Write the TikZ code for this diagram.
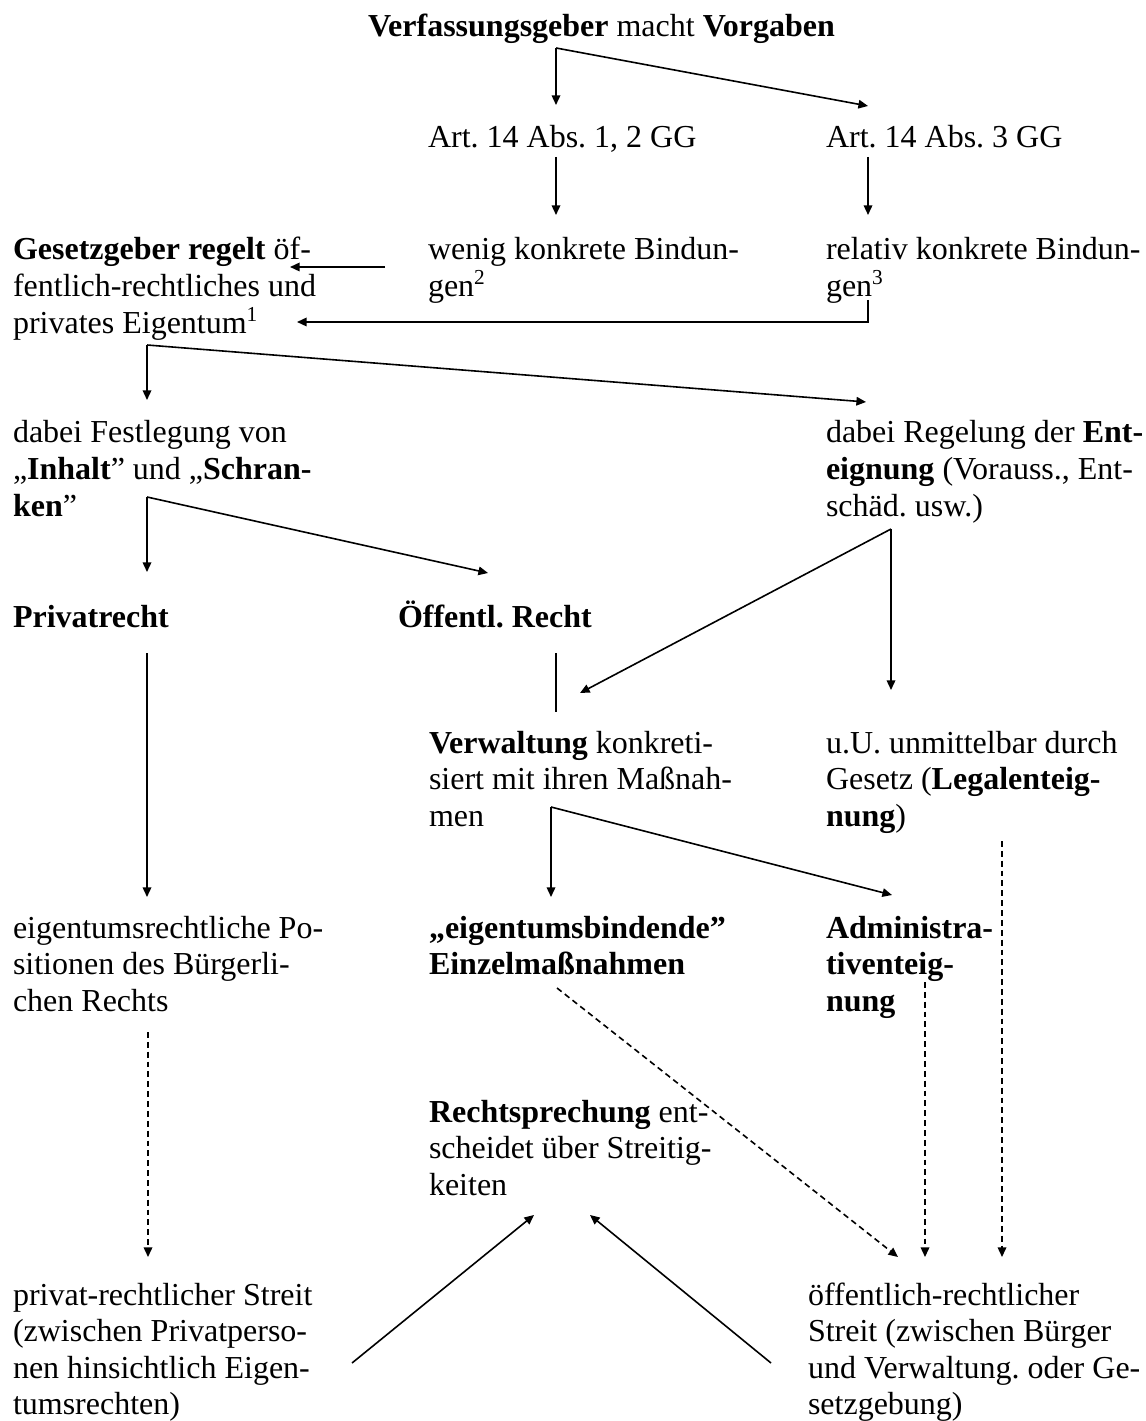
\documentclass[tikz,border=0pt]{standalone}
\usepackage{fontspec}
\setmainfont{Liberation Serif}
\usetikzlibrary{arrows.meta}
\frenchspacing
% a left-aligned block of lines whose baseline is that of its first line
\newcommand\textlines[1]{\vtop{\baselineskip=13.7pt\lineskiplimit=0pt\halign{##\hfil\cr#1\crcr}}}
\begin{document}
\begin{tikzpicture}[x=0.375pt, y=-0.375pt,
  txt/.style={inner sep=0pt, outer sep=0pt, anchor=base west, font=\fontsize{12pt}{13.7pt}\selectfont},
  link/.style={line width=0.6pt},
  arrowlink/.style={link, -{Triangle[length=3.6pt,width=3.2pt]}},
  dashlink/.style={arrowlink, dash pattern=on 2.2pt off 1.5pt}]
\useasboundingbox (0,0) rectangle (1146,1421);
\fill[white] (0,0) rectangle (1146,1421);

% ---------- texts ----------
\node[txt] (vg) at (368,37) {\textbf{Verfassungsgeber} macht \textbf{Vorgaben}};

\node[txt] (art12) at (428,148) {Art. 14 Abs. 1, 2 GG};
\node[txt] (art3)  at (826,148) {Art. 14 Abs. 3 GG};

\node[txt] (gg)    at (13,260)  {\textlines{\textbf{Gesetzgeber regelt} öf-\cr fentlich-rechtliches und\cr privates Eigentum\textsuperscript{1}}};
\node[txt] (wenig) at (428,260) {\textlines{wenig konkrete Bindun-\cr gen\textsuperscript{2}}};
\node[txt] (rel)   at (826,260) {\textlines{relativ konkrete Bindun-\cr gen\textsuperscript{3}}};

\node[txt] (fest)  at (13,443)  {\textlines{dabei Festlegung von\cr „\textbf{Inhalt}” und „\textbf{Schran-}\cr \textbf{ken}”}};
\node[txt] (regl)  at (826,443) {\textlines{dabei Regelung der \textbf{Ent-}\cr \textbf{eignung} (Vorauss., Ent-\cr schäd. usw.)}};

\node[txt] (priv)  at (13,627)  {\textbf{Privatrecht}};
\node[txt] (oeff)  at (398,627) {\textbf{Öffentl. Recht}};

\node[txt] (verw)  at (429,753) {\textlines{\textbf{Verwaltung} konkreti-\cr siert mit ihren Maßnah-\cr men}};
\node[txt] (legal) at (826,753) {\textlines{u.U. unmittelbar durch\cr Gesetz (\textbf{Legalenteig-}\cr \textbf{nung})}};

\node[txt] (pos)   at (13,938)  {\textlines{eigentumsrechtliche Po-\cr sitionen des Bürgerli-\cr chen Rechts}};
\node[txt] (einz)  at (429,938) {\textlines{\textbf{„eigentumsbindende”}\cr \textbf{Einzelmaßnahmen}}};
\node[txt] (admin) at (826,938) {\textlines{\textbf{Administra-}\cr \textbf{tiventeig-}\cr \textbf{nung}}};

\node[txt] (rspr)  at (429,1122) {\textlines{\textbf{Rechtsprechung} ent-\cr scheidet über Streitig-\cr keiten}};

\node[txt] (pstr)  at (13,1305)  {\textlines{privat-rechtlicher Streit\cr (zwischen Privatperso-\cr nen hinsichtlich Eigen-\cr tumsrechten)}};
\node[txt] (ostr)  at (808,1305) {\textlines{öffentlich-rechtlicher\cr Streit (zwischen Bürger\cr und Verwaltung. oder Ge-\cr setzgebung)}};

% ---------- connector points ----------
\coordinate (vgFork)   at (556,48);
\coordinate (art12In)  at (556,105);
\coordinate (art3In)   at (868,106);
\coordinate (art12Out) at (556,157);
\coordinate (wenigIn)  at (556,215);
\coordinate (art3Out)  at (868,157);
\coordinate (relIn)    at (868,215);
\coordinate (wenigOut) at (385,267);
\coordinate (ggIn1)    at (290,267);
\coordinate (relOut)   at (868,300);
\coordinate (relBend)  at (868,322);
\coordinate (ggIn2)    at (297,322);
\coordinate (ggFork)   at (147,345);
\coordinate (festIn)   at (147,400);
\coordinate (reglIn)   at (866,402);
\coordinate (festFork) at (147,497);
\coordinate (privIn)   at (147,572);
\coordinate (oeffIn)   at (488,573);
\coordinate (reglFork) at (891,529);
\coordinate (legalIn)  at (891,690);
\coordinate (verwIn1)  at (580,693);
\coordinate (oeffOut)  at (556,653);
\coordinate (verwIn2)  at (556,712);
\coordinate (privOut)  at (147,653);
\coordinate (posIn)    at (147,897);
\coordinate (verwFork) at (551,807);
\coordinate (einzIn)   at (551,897);
\coordinate (adminIn)  at (892,895);
\coordinate (posOut)   at (148,1032);
\coordinate (pstrIn)   at (148,1257);
\coordinate (einzOut)  at (557,988);
\coordinate (ostrIn1)  at (898,1257);
\coordinate (adminOut) at (925,982);
\coordinate (ostrIn2)  at (925,1257);
\coordinate (legalOut) at (1002,841);
\coordinate (ostrIn3)  at (1002,1257);
\coordinate (pstrOut)  at (352,1363);
\coordinate (rsprIn1)  at (534,1215);
\coordinate (ostrOut)  at (771,1363);
\coordinate (rsprIn2)  at (590,1215);

% ---------- connectors ----------
\draw[arrowlink] (vgFork) -- (art12In);
\draw[arrowlink] (vgFork) -- (art3In);
\draw[arrowlink] (art12Out) -- (wenigIn);
\draw[arrowlink] (art3Out) -- (relIn);
\draw[arrowlink] (wenigOut) -- (ggIn1);
\draw[arrowlink] (relOut) -- (relBend) -- (ggIn2);
\draw[arrowlink] (ggFork) -- (festIn);
\draw[arrowlink] (ggFork) -- (reglIn);
\draw[arrowlink] (festFork) -- (privIn);
\draw[arrowlink] (festFork) -- (oeffIn);
\draw[arrowlink] (reglFork) -- (legalIn);
\draw[arrowlink] (reglFork) -- (verwIn1);
\draw[link]      (oeffOut) -- (verwIn2);
\draw[arrowlink] (privOut) -- (posIn);
\draw[arrowlink] (verwFork) -- (einzIn);
\draw[arrowlink] (verwFork) -- (adminIn);
\draw[dashlink]  (posOut) -- (pstrIn);
\draw[dashlink]  (einzOut) -- (ostrIn1);
\draw[dashlink]  (adminOut) -- (ostrIn2);
\draw[dashlink]  (legalOut) -- (ostrIn3);
\draw[arrowlink] (pstrOut) -- (rsprIn1);
\draw[arrowlink] (ostrOut) -- (rsprIn2);
\end{tikzpicture}
\end{document}
